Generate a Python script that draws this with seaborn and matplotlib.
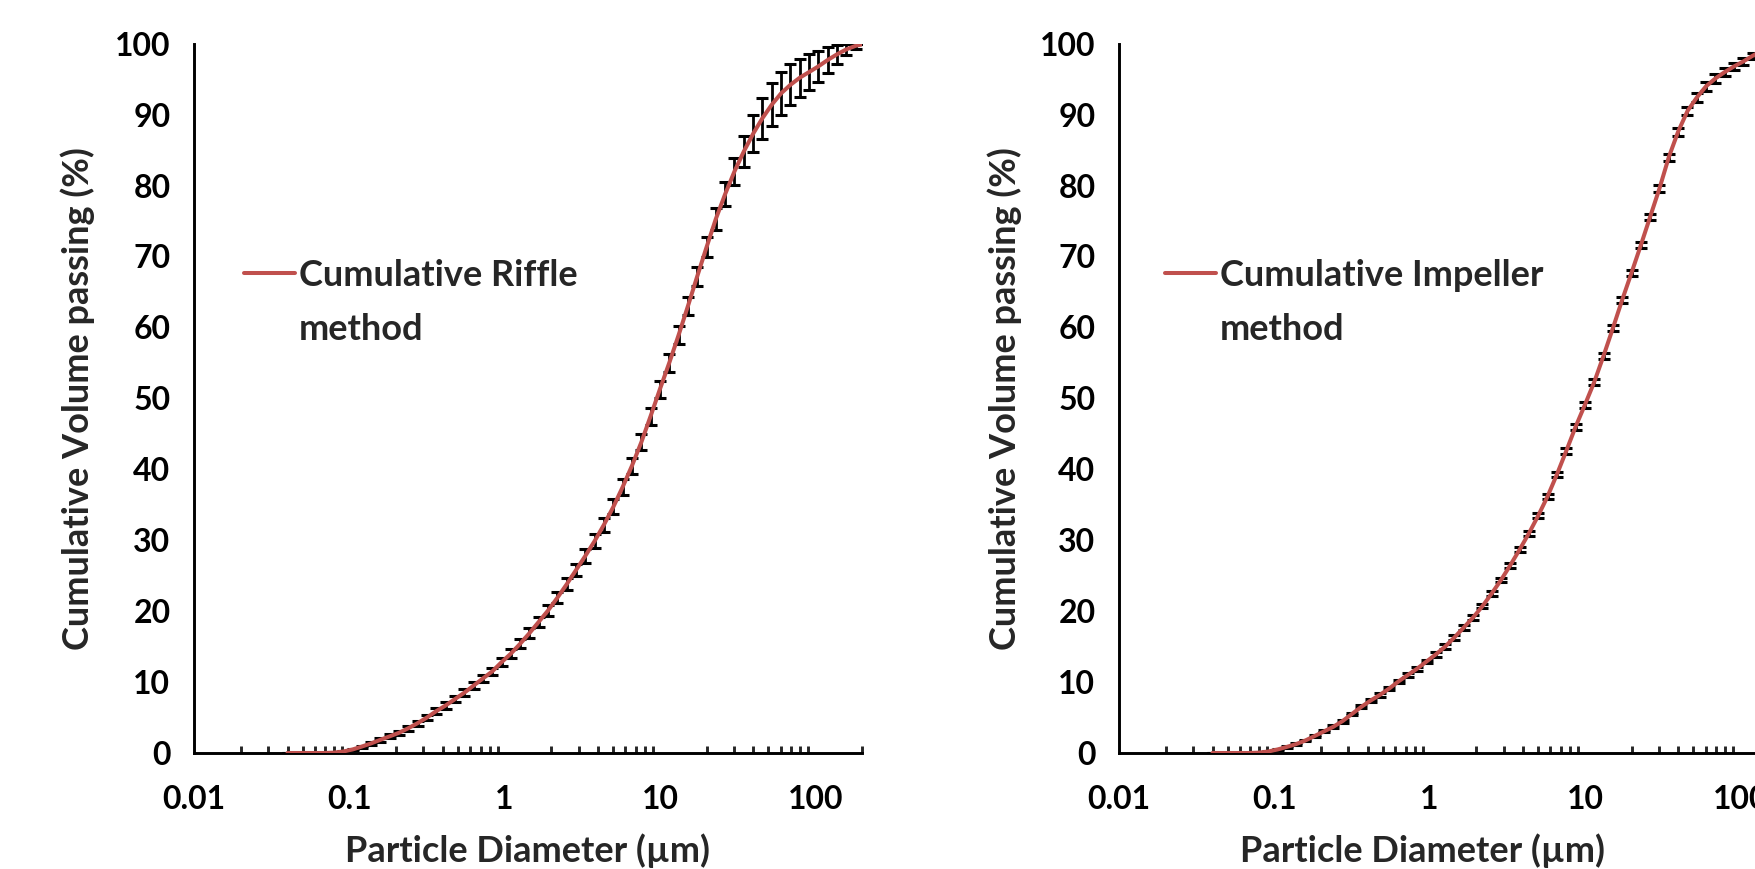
import numpy as np
import pandas as pd
import matplotlib
matplotlib.use("Agg")
import matplotlib.pyplot as plt
import seaborn as sns
from matplotlib.ticker import FixedLocator, FixedFormatter, LogLocator, NullFormatter
from matplotlib.lines import Line2D

# ---------------- data ----------------
size_um = [0.040, 0.046, 0.052, 0.060, 0.069, 0.079, 0.091, 0.105, 0.120, 0.138,
           0.158, 0.182, 0.209, 0.240, 0.275, 0.316, 0.363, 0.417, 0.479, 0.550,
           0.631, 0.724, 0.832, 0.955, 1.096, 1.259, 1.445, 1.660, 1.905, 2.188,
           2.512, 2.884, 3.311, 3.802, 4.365, 5.012, 5.754, 6.607, 7.586, 8.710,
           10.00, 11.48, 13.18, 15.14, 17.38, 19.95, 22.91, 26.30, 30.20, 34.67,
           39.81, 45.71, 52.48, 60.26, 69.18, 79.43, 91.20, 104.7, 120.2, 138.0,
           158.5, 182.0, 208.9]

riffle_cum = [0, 0, 0, 0, 0, 0.05, 0.2, 0.5, 0.9, 1.35,
              1.85, 2.35, 2.85, 3.5, 4.2, 5.0, 5.9, 6.7, 7.6, 8.5,
              9.5, 10.5, 11.5, 12.8, 14.0, 15.4, 16.9, 18.5, 20.1, 21.9,
              23.8, 25.8, 27.8, 29.9, 32.2, 34.7, 37.5, 40.5, 43.8, 47.5,
              51.3, 55.0, 58.9, 63.0, 67.2, 71.3, 75.3, 78.8, 82.0, 84.8,
              87.3, 89.5, 91.4, 93.0, 94.2, 95.2, 96.0, 96.8, 97.7, 98.5,
              99.2, 99.7, 100]

riffle_err = [0, 0, 0, 0, 0, 0, 0.05, 0.1, 0.15, 0.2,
              0.25, 0.3, 0.3, 0.35, 0.35, 0.4, 0.4, 0.45, 0.45, 0.5,
              0.5, 0.55, 0.55, 0.6, 0.6, 0.65, 0.7, 0.7, 0.75, 0.8,
              0.85, 0.9, 0.95, 1.0, 1.0, 1.05, 1.1, 1.1, 1.15, 1.2,
              1.2, 1.25, 1.25, 1.3, 1.35, 1.4, 1.5, 1.7, 1.9, 2.2,
              2.6, 2.9, 3.0, 3.0, 2.9, 2.7, 2.5, 2.2, 1.8, 1.3,
              0.8, 0.4, 0]

impeller_cum = [0, 0, 0, 0, 0, 0.05, 0.2, 0.5, 0.85, 1.25,
                1.75, 2.4, 3.05, 3.7, 4.5, 5.5, 6.5, 7.4, 8.2, 9.1,
                10.1, 11.0, 11.9, 12.9, 13.9, 15.0, 16.3, 17.7, 19.1, 20.7,
                22.5, 24.4, 26.5, 28.7, 31.0, 33.5, 36.2, 39.3, 42.6, 46.0,
                49.1, 52.3, 56.0, 59.9, 63.9, 67.7, 71.6, 75.6, 79.6, 84.0,
                87.6, 90.5, 92.4, 94.0, 95.1, 96.0, 96.8, 97.5, 98.3, 99.0,
                99.5, 99.8, 100]

impeller_err = [0, 0, 0, 0, 0, 0, 0.03, 0.05, 0.08, 0.1,
                0.12, 0.15, 0.15, 0.18, 0.2, 0.2, 0.22, 0.22, 0.25, 0.25,
                0.25, 0.25, 0.28, 0.28, 0.3, 0.3, 0.3, 0.3, 0.3, 0.32,
                0.32, 0.32, 0.35, 0.35, 0.35, 0.35, 0.38, 0.38, 0.4, 0.4,
                0.4, 0.4, 0.4, 0.4, 0.4, 0.4, 0.4, 0.4, 0.45, 0.5,
                0.55, 0.6, 0.65, 0.65, 0.6, 0.55, 0.5, 0.45, 0.4, 0.3,
                0.2, 0.1, 0]

series_labels = ["Cumulative Riffle\nmethod", "Cumulative Impeller\nmethod"]
x_label = "Particle Diameter (µm)"
y_label = "Cumulative Volume passing (%)"
x_ticks = [0.01, 0.1, 1, 10, 100]
x_tick_labels = ["0.01", "0.1", "1", "10", "100"]
y_ticks = [0, 10, 20, 30, 40, 50, 60, 70, 80, 90, 100]

# ---------------- style ----------------
sns.set_style("white")
plt.rcParams["font.family"] = ["Lato", "DejaVu Sans"]
plt.rcParams["font.weight"] = "bold"
plt.rcParams["axes.labelweight"] = "bold"

LINE_RED = "#C0504D"
FS_TICK = 23
FS_LABEL = 26

W, H = 1756, 869
fig = plt.figure(figsize=(W / 100, H / 100), dpi=100, facecolor="white")

ax_w = (862 - 194) / W
ax_h = (753 - 43.7) / H
ax_b = 1 - 753 / H
# (axes left, cum, err, label, legend x, xlabel x in axes coords, ylabel x in axes coords)
axes_specs = [
    (194 / W, riffle_cum, riffle_err, series_labels[0], 244 / W, 0.5, -0.174),
    (1119 / W, impeller_cum, impeller_err, series_labels[1], 1165 / W, 0.4536, -0.171),
]

for left, cum, err, lab, leg_x, xl_x, yl_x in axes_specs:
    ax = fig.add_axes([left, ax_b, ax_w, ax_h])
    ax.set_facecolor("white")
    ax.set_xscale("log")

    df = pd.DataFrame({"size": size_um, "cum": cum, "err": err})
    ax.errorbar(df["size"], df["cum"], yerr=df["err"], fmt="none",
                ecolor="black", elinewidth=2.0, capsize=4.2, capthick=2.2,
                zorder=2)
    sns.lineplot(data=df, x="size", y="cum", ax=ax, color=LINE_RED,
                 linewidth=2.9, sort=False, legend=False, zorder=3)

    ax.set_xlim(0.01, 200)
    ax.set_ylim(0, 100)

    ax.xaxis.set_major_locator(FixedLocator(x_ticks))
    ax.xaxis.set_major_formatter(FixedFormatter(x_tick_labels))
    ax.xaxis.set_minor_locator(LogLocator(base=10, subs=[2, 3, 4, 5, 6, 7, 8, 9], numticks=20))
    ax.xaxis.set_minor_formatter(NullFormatter())
    ax.yaxis.set_major_locator(FixedLocator(y_ticks))

    for s in ["top", "right"]:
        ax.spines[s].set_visible(False)
    for s in ["left", "bottom"]:
        ax.spines[s].set_linewidth(2.1)
        ax.spines[s].set_color("black")

    ax.tick_params(axis="x", which="major", direction="out", length=8, width=2.1,
                   labelsize=FS_TICK, pad=15, colors="black")
    ax.tick_params(axis="x", which="minor", direction="in", length=5, width=2.1,
                   bottom=True)
    ax.tick_params(axis="y", which="major", direction="out", length=7, width=2.1,
                   labelsize=FS_TICK, pad=10, colors="black")
    for t in ax.get_xticklabels() + ax.get_yticklabels():
        t.set_fontweight("bold")

    ax.set_xlabel(x_label, fontsize=FS_LABEL, fontweight="bold")
    ax.set_ylabel(y_label, fontsize=FS_LABEL, fontweight="bold")
    ax.xaxis.set_label_coords(xl_x, (753 - 851) / (753 - 43.7))
    ax.xaxis.label.set_verticalalignment("center")
    ax.yaxis.set_label_coords(yl_x, 0.5)
    ax.yaxis.label.set_verticalalignment("center")

    first, second = lab.split("\n")
    handles = [Line2D([], [], color=LINE_RED, linewidth=2.9),
               Line2D([], [], color="none")]
    leg = ax.legend(handles, [first, second], loc="upper left",
                    bbox_to_anchor=(leg_x, 1 - 259 / H), bbox_transform=fig.transFigure,
                    frameon=False, fontsize=FS_LABEL, handlelength=1.41,
                    handletextpad=0.12, borderpad=0, borderaxespad=0,
                    labelspacing=0.58)
    for t in leg.get_texts():
        t.set_fontweight("bold")

fig.savefig("out.png", dpi=100, facecolor="white")
